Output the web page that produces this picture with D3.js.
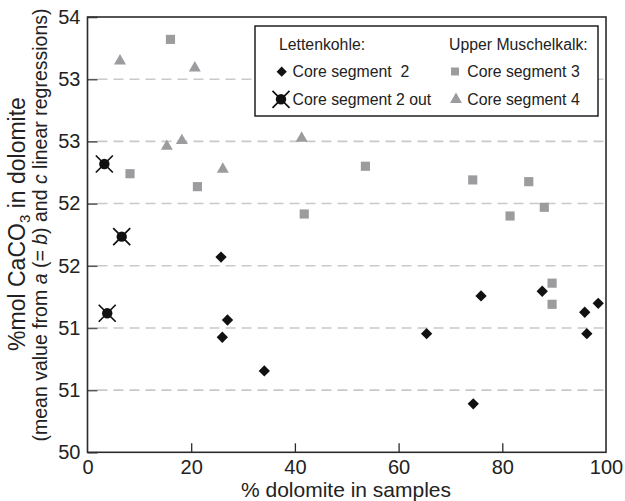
<!DOCTYPE html>
<html>
<head>
<meta charset="utf-8">
<script src="https://cdn.jsdelivr.net/npm/d3@7"></script>
<style>
  html, body { margin: 0; padding: 0; background: #fff; }
  svg { display: block; font-family: "Liberation Sans", Arial, Helvetica, sans-serif; }
</style>
</head>
<body>
<svg id="chart" width="625" height="501"></svg>
<script>
// Core segment 2 (Lettenkohle)
const seg2X = [25.75, 27.0, 26.0, 34.1, 65.4, 74.4, 75.9, 87.7, 95.9, 98.5, 96.3];
const seg2Y = [51.57, 51.064, 50.925, 50.654, 50.954, 50.39, 51.257, 51.295, 51.126, 51.198, 50.954];
// Core segment 2 outliers
const seg2OutX = [3.25, 6.6, 3.8];
const seg2OutY = [52.318, 51.734, 51.118];
// Core segment 3 (Upper Muschelkalk)
const seg3X = [16.0, 8.2, 21.2, 41.8, 53.6, 74.3, 85.1, 81.5, 88.1, 89.6, 89.6];
const seg3Y = [53.32, 52.24, 52.136, 51.916, 52.30, 52.19, 52.176, 51.90, 51.97, 51.36, 51.19];
// Core segment 4 (Upper Muschelkalk)
const seg4X = [6.27, 20.7, 15.3, 18.2, 26.1, 41.3];
const seg4Y = [53.146, 53.09, 52.46, 52.506, 52.276, 52.525];

const xTicks = [0, 20, 40, 60, 80, 100];
const yTicks = [50, 50.5, 51, 51.5, 52, 52.5, 53, 53.5];

const svg = d3.select("#chart");
const pL = 87.5, pR = 606, pT = 17, pB = 452.3;
const x = d3.scaleLinear().domain([0, 100]).range([pL, pR]);
const y = d3.scaleLinear().domain([50, 53.5]).range([pB, pT]);

const axisColor = "#2b2b2b";
const gray = "#9c9c9f";

// dashed gridlines
svg.append("g").selectAll("line")
  .data(yTicks.filter(d => d > 50 && d < 53.5))
  .join("line")
  .attr("x1", pL + 10).attr("x2", pR)
  .attr("y1", d => y(d)).attr("y2", d => y(d))
  .attr("stroke", "#c9c9c9").attr("stroke-width", 1.6)
  .attr("stroke-dasharray", "10,6");

// y axis: inner ticks, labels rounded to whole numbers
const yAxis = d3.axisLeft(y).tickValues(yTicks).tickSizeInner(-10).tickSizeOuter(0)
  .tickPadding(7).tickFormat(d => Math.round(d + 1e-9).toString());
const gy = svg.append("g").attr("transform", `translate(${pL},0)`).call(yAxis);
gy.select(".domain").remove();
gy.selectAll(".tick line").attr("stroke", "#555").attr("stroke-width", 1.6);
gy.selectAll(".tick text").attr("font-size", 20).attr("fill", "#222");

// x axis: inner ticks
const xAxis = d3.axisBottom(x).tickValues(xTicks).tickSizeInner(-9).tickSizeOuter(0)
  .tickPadding(8).tickFormat(d3.format("d"));
const gx = svg.append("g").attr("transform", `translate(0,${pB})`).call(xAxis);
gx.select(".domain").remove();
gx.selectAll(".tick line").attr("stroke", axisColor).attr("stroke-width", 1.3)
  .attr("display", d => (d === 0 || d === 100) ? "none" : null);
gx.selectAll(".tick text").attr("font-size", 20).attr("fill", "#222");

// plot frame
svg.append("rect")
  .attr("x", pL).attr("y", pT)
  .attr("width", pR - pL).attr("height", pB - pT)
  .attr("fill", "none").attr("stroke", axisColor).attr("stroke-width", 1.6);

// marker drawing helpers
const sq = d3.symbol().type(d3.symbolSquare).size(84);
const tri = d3.symbol().type(d3.symbolTriangle).size(62);
const dia = d3.symbol().type(d3.symbolSquare).size(64); // rotated 45° below

function drawStar(g, cx, cy) {
  g.append("circle").attr("cx", cx).attr("cy", cy).attr("r", 5.2).attr("fill", "#111");
  const r = 8.5;
  g.append("path")
    .attr("d", `M${cx - r},${cy - r}L${cx + r},${cy + r}M${cx - r},${cy + r}L${cx + r},${cy - r}`)
    .attr("stroke", "#111").attr("stroke-width", 1.7).attr("fill", "none");
}

const marks = svg.append("g");
seg3X.forEach((v, i) => {
  marks.append("path").attr("d", sq()).attr("fill", gray)
    .attr("transform", `translate(${x(v)},${y(seg3Y[i])})`);
});
seg4X.forEach((v, i) => {
  marks.append("path").attr("d", tri()).attr("fill", gray)
    .attr("transform", `translate(${x(v)},${y(seg4Y[i])})`);
});
seg2X.forEach((v, i) => {
  marks.append("path").attr("d", dia()).attr("fill", "#111")
    .attr("transform", `translate(${x(v)},${y(seg2Y[i])}) rotate(45)`);
});
seg2OutX.forEach((v, i) => drawStar(marks, x(v), y(seg2OutY[i])));

// legend
const lg = svg.append("g");
lg.append("rect").attr("x", 255).attr("y", 26).attr("width", 343).attr("height", 90)
  .attr("fill", "#fff").attr("stroke", "#111").attr("stroke-width", 1.4);
const lfs = 15.8;
lg.append("text").attr("x", 279).attr("y", 50).attr("font-size", lfs).attr("fill", "#222").text("Lettenkohle:");
lg.append("text").attr("x", 449).attr("y", 50).attr("font-size", lfs).attr("fill", "#222").text("Upper Muschelkalk:");
lg.append("path").attr("d", d3.symbol().type(d3.symbolSquare).size(52)()).attr("fill", "#111")
  .attr("transform", "translate(281.7,71.7) rotate(45)");
lg.append("text").attr("x", 292.5).attr("y", 77.3).attr("font-size", lfs).attr("fill", "#222")
  .style("white-space", "pre").text("Core segment  2");
drawStar(lg, 281, 99.3);
lg.append("text").attr("x", 292.5).attr("y", 105).attr("font-size", lfs).attr("fill", "#222").text("Core segment 2 out");
lg.append("path").attr("d", d3.symbol().type(d3.symbolSquare).size(64)()).attr("fill", gray).attr("transform", "translate(455,71.5)");
lg.append("text").attr("x", 467.3).attr("y", 77.3).attr("font-size", lfs).attr("fill", "#222").text("Core segment 3");
lg.append("path").attr("d", tri()).attr("fill", gray).attr("transform", "translate(456,99.5)");
lg.append("text").attr("x", 467.3).attr("y", 105).attr("font-size", lfs).attr("fill", "#222").text("Core segment 4");

// axis titles
svg.append("text").attr("x", 346).attr("y", 497)
  .attr("text-anchor", "middle").attr("font-size", 21).attr("fill", "#222")
  .text("% dolomite in samples");

const t1 = svg.append("text").attr("transform", "translate(25,224) rotate(-90)")
  .attr("text-anchor", "middle").attr("font-size", 23).attr("fill", "#222");
t1.append("tspan").text("%mol CaCO");
t1.append("tspan").attr("font-size", 15).attr("dy", 5).text("3");
t1.append("tspan").attr("dy", -5).text(" in dolomite");

const t2 = svg.append("text").attr("transform", "translate(47,225) rotate(-90)")
  .attr("text-anchor", "middle").attr("font-size", 19.5).attr("fill", "#222");
t2.append("tspan").text("(mean value from ");
t2.append("tspan").attr("font-style", "italic").text("a");
t2.append("tspan").text(" (= ");
t2.append("tspan").attr("font-style", "italic").text("b");
t2.append("tspan").text(") and ");
t2.append("tspan").attr("font-style", "italic").text("c");
t2.append("tspan").text(" linear regressions)");
</script>
</body>
</html>
